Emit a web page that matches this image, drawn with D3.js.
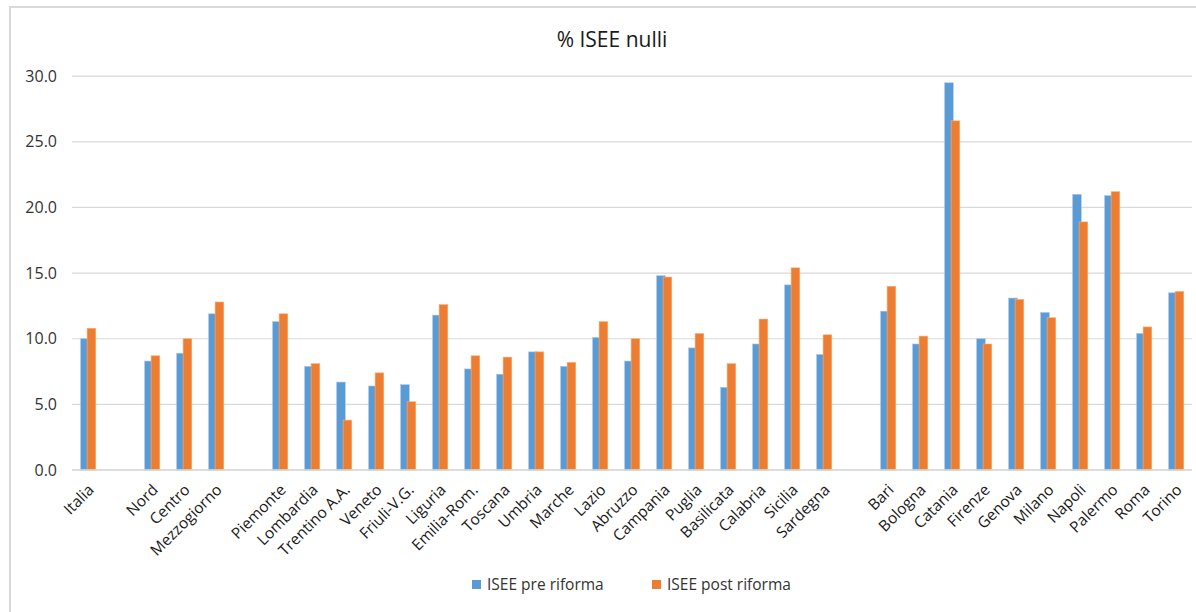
<!DOCTYPE html>
<html>
<head>
<meta charset="utf-8">
<script src="https://cdn.jsdelivr.net/npm/d3@7"></script>
<style>
  html, body { margin: 0; padding: 0; background: #fff; }
  svg { display: block; font-family: "Open Sans", "Noto Sans", sans-serif; }
</style>
</head>
<body>
<svg id="chart" width="1196" height="612"></svg>
<script>
const categories = ["Italia", "", "Nord", "Centro", "Mezzogiorno", "",
  "Piemonte", "Lombardia", "Trentino A.A.", "Veneto", "Friuli-V.G.", "Liguria",
  "Emilia-Rom.", "Toscana", "Umbria", "Marche", "Lazio", "Abruzzo", "Campania",
  "Puglia", "Basilicata", "Calabria", "Sicilia", "Sardegna", "",
  "Bari", "Bologna", "Catania", "Firenze", "Genova", "Milano", "Napoli",
  "Palermo", "Roma", "Torino"];
const preRiforma = [10.0, null, 8.3, 8.9, 11.9, null,
  11.3, 7.9, 6.7, 6.4, 6.5, 11.8,
  7.7, 7.3, 9.0, 7.9, 10.1, 8.3, 14.8,
  9.3, 6.3, 9.6, 14.1, 8.8, null,
  12.1, 9.6, 29.5, 10.0, 13.1, 12.0, 21.0,
  20.9, 10.4, 13.5];
const postRiforma = [10.8, null, 8.7, 10.0, 12.8, null,
  11.9, 8.1, 3.8, 7.4, 5.2, 12.6,
  8.7, 8.6, 9.0, 8.2, 11.3, 10.0, 14.7,
  10.4, 8.1, 11.5, 15.4, 10.3, null,
  14.0, 10.2, 26.6, 9.6, 13.0, 11.6, 18.9,
  21.2, 10.9, 13.6];
const yTicks = [0, 5, 10, 15, 20, 25, 30];
const seriesNames = ["ISEE pre riforma", "ISEE post riforma"];
const seriesColors = ["#5B9BD5", "#ED7D31"];

const svg = d3.select("#chart");

// outer border
svg.append("rect").attr("x", 10).attr("y", 7).attr("width", 1300).attr("height", 700)
  .attr("fill", "none").attr("stroke", "#d9d9d9").attr("stroke-width", 2);

const x = d3.scaleBand().domain(d3.range(categories.length)).range([72, 1192]);
const y = d3.scaleLinear().domain([0, 30]).range([470, 76.2]);

// gridlines
svg.append("g").selectAll("line").data(yTicks).join("line")
  .attr("x1", 72).attr("x2", 1192)
  .attr("y1", d => y(d)).attr("y2", d => y(d))
  .attr("stroke", "#d9d9d9").attr("stroke-width", 1.2);

// y labels
svg.append("g").selectAll("text").data(yTicks).join("text")
  .attr("x", 57).attr("y", d => y(d)).attr("dy", "0.35em")
  .attr("text-anchor", "end").attr("fill", "#333")
  .attr("font-size", 16)
  .text(d => d3.format(".1f")(d));

const barW = 8.7;
const center = i => x(i) + x.bandwidth() / 2;

const rows = categories.map((c, i) => ({ i, c, pre: preRiforma[i], post: postRiforma[i] }))
  .filter(r => r.pre !== null);

svg.append("g").selectAll("rect").data(rows).join("rect")
  .attr("x", r => center(r.i) - 7.4).attr("width", barW)
  .attr("y", r => y(r.pre)).attr("height", r => y(0) - y(r.pre))
  .attr("fill", seriesColors[0])
  .attr("stroke", "#a9c8ea").attr("stroke-width", 0.6);

svg.append("g").selectAll("rect").data(rows).join("rect")
  .attr("x", r => center(r.i) - 0.9).attr("width", barW)
  .attr("y", r => y(r.post)).attr("height", r => y(0) - y(r.post))
  .attr("fill", seriesColors[1])
  .attr("stroke", "#f4b183").attr("stroke-width", 0.6);

// x axis baseline
svg.append("line").attr("x1", 72).attr("x2", 1192).attr("y1", y(0)).attr("y2", y(0))
  .attr("stroke", "#d9d9d9").attr("stroke-width", 1.5);

// x labels
svg.append("g").selectAll("text").data(categories.map((c, i) => ({ c, i })).filter(d => d.c !== ""))
  .join("text")
  .attr("transform", d => `translate(${center(d.i) + 3},${y(0) + 17}) rotate(-45)`)
  .attr("text-anchor", "end").attr("dy", "0.35em")
  .attr("fill", "#1a1a1a").attr("font-size", 15.5)
  .text(d => d.c);

// title
svg.append("text").attr("x", 612).attr("y", 47).attr("text-anchor", "middle")
  .attr("font-size", 21).attr("fill", "#1a1a1a").text("% ISEE nulli");

// legend
const legendX = [472, 652];
const lg = svg.append("g").selectAll("g").data(seriesNames).join("g")
  .attr("transform", (d, i) => `translate(${legendX[i]},580)`);
lg.append("rect").attr("width", 9).attr("height", 9).attr("fill", (d, i) => seriesColors[i]);
lg.append("text").attr("x", 15).attr("y", 4.5).attr("dy", "0.35em")
  .attr("font-size", 15.5).attr("fill", "#333").text(d => d);
</script>
</body>
</html>
